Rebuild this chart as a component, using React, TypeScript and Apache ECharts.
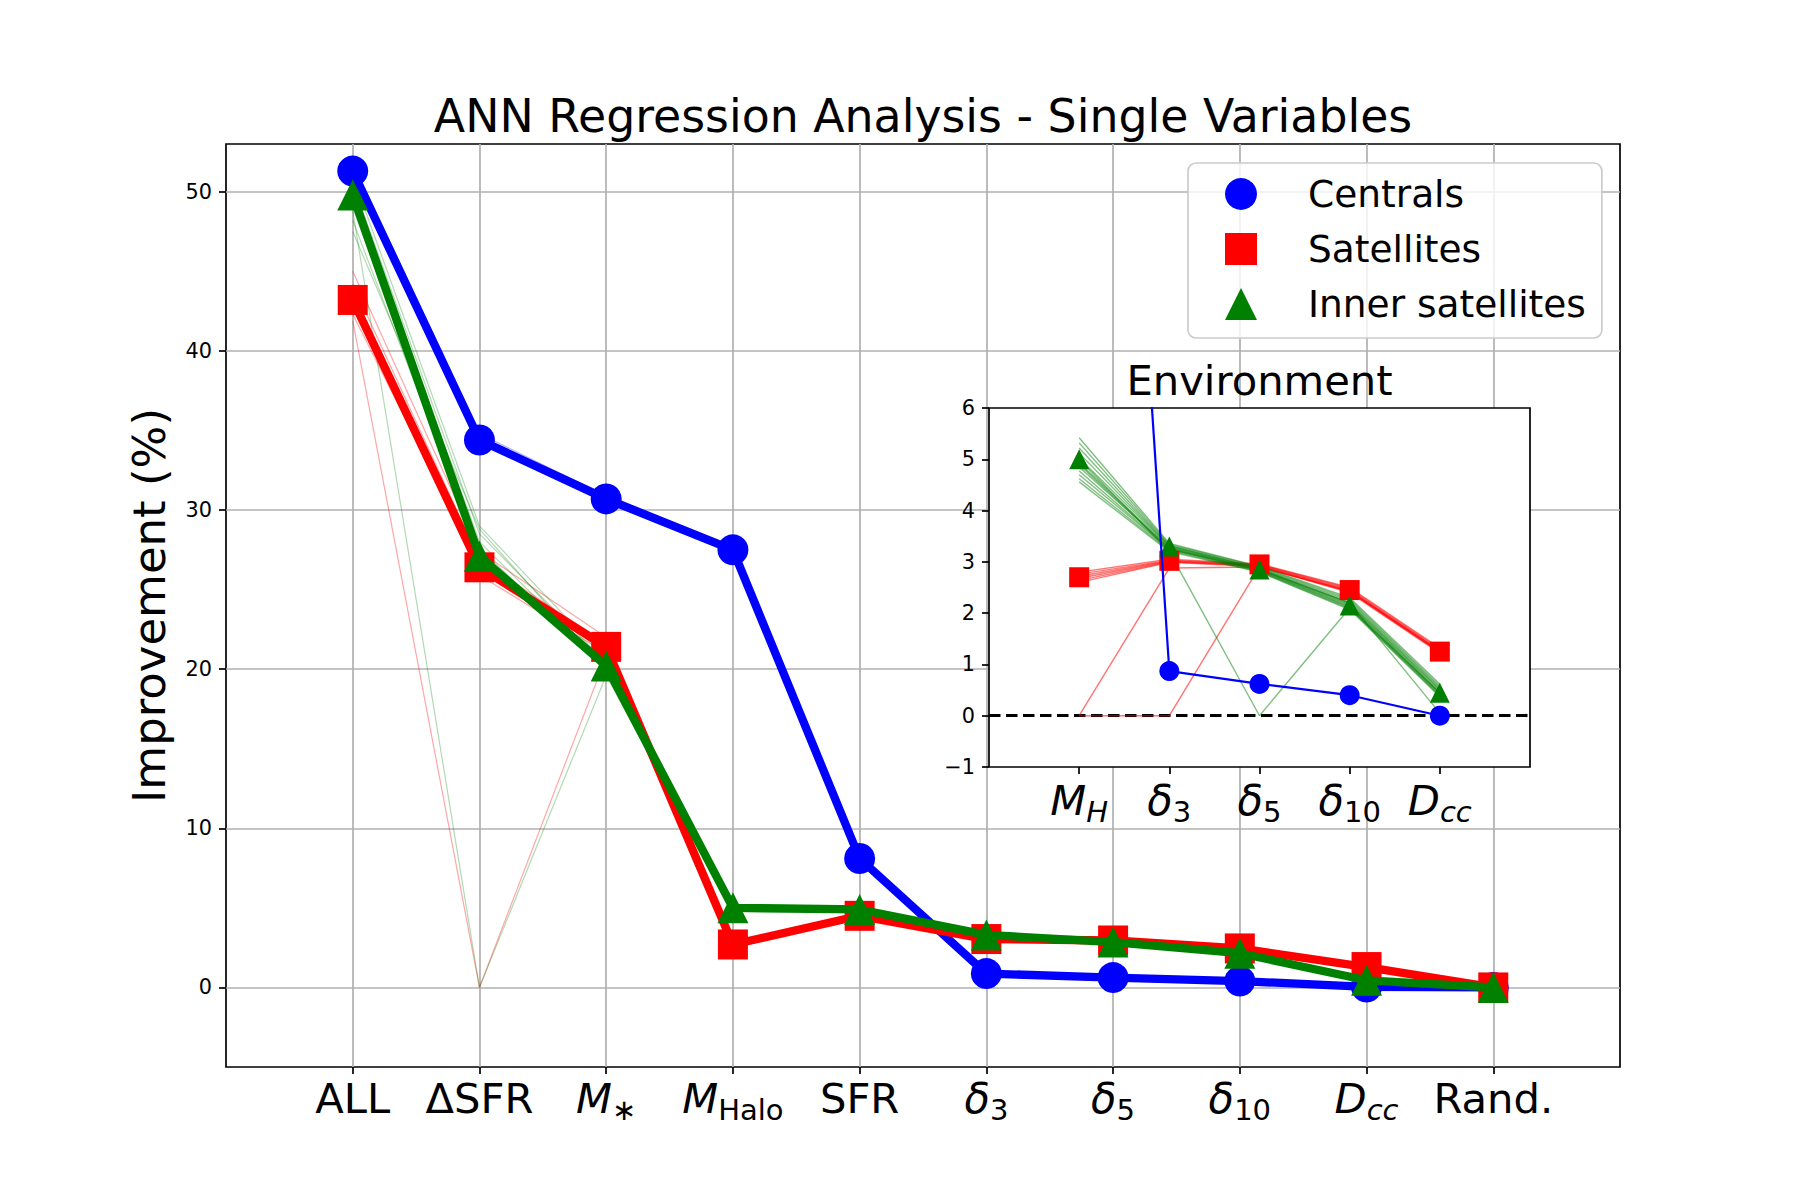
import React, { useEffect, useRef } from "react";
import * as echarts from "echarts";

// Input variables of the regression, in plotting order
const categories = ["ALL", "ΔSFR", "M*", "MHalo", "SFR", "δ3", "δ5", "δ10", "Dcc", "Rand."];
const envCategories = ["MH", "δ3", "δ5", "δ10", "Dcc"];

// Mean improvement (%) per variable
const centrals = [51.3, 34.4, 30.7, 27.5, 8.1, 0.87, 0.62, 0.4, 0.03, 0.0];
const satellites = [43.2, 26.4, 21.4, 2.7, 4.5, 3.04, 2.95, 2.45, 1.28, 0.0];
const innerSatellites = [49.8, 27.1, 20.2, 5.0, 4.9, 3.3, 2.85, 2.15, 0.45, 0.0];

// Individual training runs
const centralRuns = [
  [51.8, 34.8, 30.9, 27.7, 8.3, 0.9, 0.64, 0.42, 0.04, 0.0],
  [51.0, 34.2, 30.5, 27.3, 7.9, 0.85, 0.6, 0.38, 0.0, 0.0],
  [51.5, 34.6, 30.8, 27.6, 8.1, 0.88, 0.62, 0.41, 0.02, 0.0],
];
const satelliteRuns = [
  [45.0, 27.4, 22.0, 2.8, 4.6, 3.05, 2.95, 2.5, 1.3, 0.0],
  [44.2, 26.9, 21.6, 2.75, 4.5, 3.0, 2.93, 2.45, 1.27, 0.0],
  [43.6, 26.2, 21.2, 2.7, 4.45, 3.02, 2.96, 2.43, 1.22, 0.0],
  [42.8, 25.9, 21.0, 2.65, 4.5, 3.0, 2.92, 2.4, 1.2, 0.0],
  [42.3, 26.5, 21.5, 2.7, 4.55, 3.04, 2.97, 2.47, 1.28, 0.0],
  [41.9, 0.0, 20.8, 2.7, 4.5, 3.0, 2.9, 2.45, 1.25, 0.0],
];
const innerRuns = [
  [51.0, 29.0, 20.6, 5.2, 5.1, 3.35, 2.88, 2.2, 0.5, 0.0],
  [50.5, 28.5, 20.4, 5.1, 5.0, 3.3, 2.86, 2.18, 0.48, 0.0],
  [49.8, 28.0, 20.1, 5.0, 4.95, 3.28, 2.85, 2.15, 0.45, 0.0],
  [49.0, 27.6, 20.0, 4.9, 4.9, 3.25, 2.83, 2.12, 0.42, 0.0],
  [48.2, 27.3, 20.2, 4.85, 4.85, 3.3, 2.84, 2.14, 0.44, 0.0],
  [47.5, 28.8, 19.9, 5.05, 4.95, 3.32, 2.87, 2.16, 0.47, 0.0],
  [48.8, 0.0, 19.6, 5.0, 4.9, 3.3, 2.85, 2.15, 0.45, 0.0],
];

// Environment-only comparison
const envCentrals = [27.5, 0.87, 0.62, 0.4, 0.0];
const envSatellites = [2.7, 3.02, 2.95, 2.45, 1.25];
const envInner = [5.0, 3.3, 2.85, 2.15, 0.45];
const envSatelliteRuns = [
  [2.8, 3.05, 2.96, 2.5, 1.32],
  [2.76, 3.03, 2.95, 2.48, 1.3],
  [2.72, 3.02, 2.94, 2.46, 1.28],
  [2.68, 3.01, 2.93, 2.44, 1.26],
  [2.64, 3.0, 2.92, 2.42, 1.24],
  [2.6, 2.99, 2.91, 2.4, 1.22],
  [0.0, 2.88, 2.9, 2.44, 1.26],
  [0.0, 0.0, 2.9, 2.42, 1.24],
];
const envInnerRuns = [
  [5.42, 3.36, 2.91, 2.3, 0.62],
  [5.32, 3.34, 2.9, 2.27, 0.58],
  [5.22, 3.32, 2.88, 2.24, 0.55],
  [5.12, 3.31, 2.87, 2.21, 0.52],
  [5.02, 3.3, 2.86, 2.19, 0.5],
  [4.93, 3.28, 2.85, 2.17, 0.47],
  [4.85, 3.27, 2.84, 2.15, 0.45],
  [4.77, 3.25, 2.83, 2.13, 0.43],
  [4.7, 3.24, 2.82, 2.11, 0.41],
  [4.62, 3.22, 2.81, 2.09, 0.39],
  [4.56, 3.2, 2.8, 2.07, 0.37],
  [5.0, 3.2, 0.0, 2.1, 0.45],
  [4.9, 3.25, 2.85, 2.2, 0.05],
];

const yTicks = [0, 10, 20, 30, 40, 50];
const envYTicks = [-1, 0, 1, 2, 3, 4, 5, 6];

// Mathtext-style markup for the tick labels
const markup: Record<string, string> = {
  ALL: "{rm|ALL}",
  "ΔSFR": "{rm|ΔSFR}",
  "M*": "{it|M}{sub|∗}",
  MHalo: "{it|M}{sub|Halo}",
  SFR: "{rm|SFR}",
  "δ3": "{it|δ}{sub|3}",
  "δ5": "{it|δ}{sub|5}",
  "δ10": "{it|δ}{sub|10}",
  Dcc: "{it|D}{subit|cc}",
  MH: "{it|M}{subit|H}",
  "Rand.": "{rm|Rand.}",
};

const FONT = "'DejaVu Sans', sans-serif";
const BIG = 41.7;
const TITLE = 45.8;
const LEGEND = 37.5;
const SMALL = 20.8;
const SUB = 29;

const BLUE = "#0000ff";
const RED = "#ff0000";
const GREEN = "#008000";

const rich = {
  rm: { fontSize: BIG, lineHeight: 42, verticalAlign: "top", color: "#000", fontFamily: FONT },
  it: { fontSize: BIG, lineHeight: 42, verticalAlign: "top", color: "#000", fontFamily: FONT, fontStyle: "italic" },
  sub: { fontSize: SUB, lineHeight: 47, verticalAlign: "bottom", color: "#000", fontFamily: FONT },
  subit: { fontSize: SUB, lineHeight: 47, verticalAlign: "bottom", color: "#000", fontFamily: FONT, fontStyle: "italic" },
};

const idx = (arr: number[]) => arr.map((v, i) => [i, v]);
const range = (n: number) => Array.from({ length: n }, (_, i) => i);

const tickStyle = { length: 7, lineStyle: { color: "#000", width: 1.7 } };

function runSeries(runs: number[][], color: string, axis: number, width: number, opacity: number, z: number) {
  return runs.map((r, k) => ({
    name: `run-${axis}-${color}-${k}`,
    type: "line",
    xAxisIndex: axis,
    yAxisIndex: axis,
    data: idx(r),
    symbol: "none",
    silent: true,
    z,
    lineStyle: { color, width, opacity },
  }));
}

function meanSeries(name: string, data: number[], axis: number, color: string, width: number, symbol: string, size: number, z: number) {
  return {
    name,
    type: "line",
    xAxisIndex: axis,
    yAxisIndex: axis,
    data: idx(data),
    symbol,
    symbolSize: size,
    showSymbol: true,
    silent: true,
    z,
    lineStyle: { color, width, join: "round", cap: "round" },
    itemStyle: { color, borderWidth: 0 },
  };
}

function markerSeries(name: string, data: number[], axis: number, color: string, symbol: string, size: number, z: number) {
  return {
    name,
    type: "scatter",
    xAxisIndex: axis,
    yAxisIndex: axis,
    data: idx(data),
    symbol,
    symbolSize: size,
    silent: true,
    z,
    itemStyle: { color, borderWidth: 0, opacity: 1 },
  };
}

export default function App() {
  const ref = useRef<HTMLDivElement>(null);

  useEffect(() => {
    if (!ref.current) return;
    const chart = echarts.init(ref.current, undefined, { renderer: "svg" });

    const option = {
      animation: false,
      backgroundColor: "#ffffff",
      textStyle: { fontFamily: FONT },
      title: [
        {
          text: "ANN Regression Analysis - Single Variables",
          left: 923,
          top: 93,
          textAlign: "center",
          padding: 0,
          textStyle: { fontSize: TITLE, lineHeight: 46, fontWeight: "normal", color: "#000", fontFamily: FONT },
        },
        {
          text: "Environment",
          left: 1259.5,
          top: 359,
          textAlign: "center",
          padding: 0,
          textStyle: { fontSize: BIG, lineHeight: 42, fontWeight: "normal", color: "#000", fontFamily: FONT },
        },
      ],
      legend: {
        data: [
          { name: "Centrals", icon: "circle" },
          { name: "Satellites", icon: "rect" },
          { name: "Inner satellites", icon: "triangle" },
        ],
        orient: "vertical",
        left: 1188,
        top: 163,
        itemWidth: 32,
        itemHeight: 32,
        itemGap: 17,
        padding: [12, 16, 15, 37],
        backgroundColor: "rgba(255,255,255,0.8)",
        borderColor: "#cccccc",
        borderWidth: 1.7,
        borderRadius: 8,
        selectedMode: false,
        z: 20,
        textStyle: { fontSize: LEGEND, lineHeight: 38, color: "#000", fontFamily: FONT, padding: [0, 0, 0, 46] },
      },
      grid: [
        { left: 226, top: 144, width: 1394, height: 923, show: true, borderColor: "#000", borderWidth: 1.7, backgroundColor: "transparent" },
        { left: 989, top: 408, width: 541, height: 359, show: true, borderColor: "#000", borderWidth: 1.7, backgroundColor: "#ffffff", z: 5 },
      ],
      xAxis: [
        {
          type: "value",
          gridIndex: 0,
          min: -1,
          max: 10,
          interval: 1,
          axisLine: { show: false, onZero: false },
          axisTick: { ...tickStyle, customValues: range(categories.length) },
          axisLabel: {
            customValues: range(categories.length),
            margin: 10,
            formatter: (v: number) => markup[categories[v]] ?? "",
            rich,
          },
          splitLine: { show: true, lineStyle: { color: "#b0b0b0", width: 1.7 } },
        },
        {
          type: "value",
          gridIndex: 1,
          min: -1,
          max: 5,
          interval: 1,
          z: 5,
          axisLine: { show: false, onZero: false },
          axisTick: { ...tickStyle, customValues: range(envCategories.length) },
          axisLabel: {
            customValues: range(envCategories.length),
            margin: 12,
            formatter: (v: number) => markup[envCategories[v]] ?? "",
            rich,
          },
          splitLine: { show: false },
        },
      ],
      yAxis: [
        {
          type: "value",
          gridIndex: 0,
          min: -5,
          max: 53,
          splitNumber: 6,
          axisLine: { show: false, onZero: false },
          axisTick: { ...tickStyle, customValues: yTicks },
          axisLabel: { customValues: yTicks, margin: 14, fontSize: SMALL, color: "#000", fontFamily: FONT },
          splitLine: { show: true, lineStyle: { color: "#b0b0b0", width: 1.7 } },
          name: "Improvement (%)",
          nameLocation: "middle",
          nameGap: 54,
          nameTextStyle: { fontSize: 45, lineHeight: 46, color: "#000", fontFamily: FONT },
        },
        {
          type: "value",
          gridIndex: 1,
          min: -1,
          max: 6,
          interval: 1,
          z: 5,
          axisLine: { show: false, onZero: false },
          axisTick: { ...tickStyle, customValues: envYTicks },
          axisLabel: {
            customValues: envYTicks,
            margin: 14,
            fontSize: SMALL,
            color: "#000",
            fontFamily: FONT,
            formatter: (v: number) => (v < 0 ? "−" + Math.abs(v) : String(v)),
          },
          splitLine: { show: false },
        },
      ],
      series: [
        // main panel
        ...runSeries(centralRuns, BLUE, 0, 1.2, 0.3, 1),
        ...runSeries(satelliteRuns, RED, 0, 1.2, 0.35, 1),
        ...runSeries(innerRuns, GREEN, 0, 1.2, 0.3, 1),
        meanSeries("Centrals", centrals, 0, BLUE, 8.3, "circle", 31, 2),
        meanSeries("Satellites", satellites, 0, RED, 8.3, "rect", 30, 3),
        meanSeries("Inner satellites", innerSatellites, 0, GREEN, 8.3, "triangle", 31, 4),

        // environment inset
        ...runSeries(envSatelliteRuns, RED, 1, 1.4, 0.55, 6),
        ...runSeries(envInnerRuns, GREEN, 1, 1.4, 0.5, 7),
        markerSeries("env-satellites", envSatellites, 1, RED, "rect", 20, 8),
        markerSeries("env-inner", envInner, 1, GREEN, "triangle", 20, 9),
        meanSeries("env-centrals", envCentrals, 1, BLUE, 2.2, "circle", 20, 10),
        {
          name: "zero",
          type: "line",
          xAxisIndex: 1,
          yAxisIndex: 1,
          data: [],
          silent: true,
          z: 11,
          markLine: {
            silent: true,
            symbol: "none",
            label: { show: false },
            lineStyle: { color: "#000", width: 3.2, type: [11.5, 5.5] },
            data: [{ yAxis: 0 }],
          },
        },
      ],
    };

    chart.setOption(option as any);
    return () => chart.dispose();
  }, []);

  return <div ref={ref} style={{ position: "fixed", left: 0, top: 0, width: 1800, height: 1200 }} />;
}
